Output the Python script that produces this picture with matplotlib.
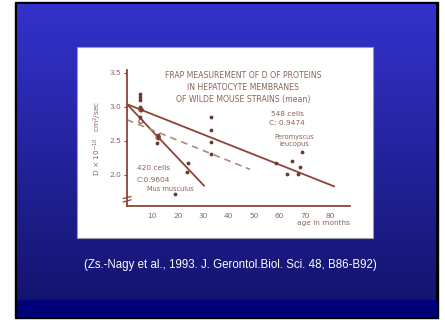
import numpy as np
import matplotlib.pyplot as plt
from matplotlib.patches import Rectangle

# fitted lines (age in months, D x 10^-10 cm2/sec)
mus_x = [0, 30.3]
mus_y = [3.04, 1.84]
pero_x = [0, 81.5]
pero_y = [3.04, 1.83]
dash_x = [0, 48.4]
dash_y = [2.81, 2.08]

# measured points
pts_age = [5, 5, 5, 5, 5.5, 5, 12.3, 12.3, 12, 24, 23.5, 19,
           33, 33, 33, 33, 58.5, 63, 65, 69, 68, 67.5]
pts_d = [3.19, 3.14, 3.10, 3.0, 2.96, 2.85, 2.59, 2.54, 2.47, 2.17, 2.04, 1.72,
         2.85, 2.66, 2.48, 2.31, 2.17, 2.01, 2.21, 2.34, 2.11, 2.01]
circ_age = [5.5, 5.5, 12.3]
circ_d = [2.96, 2.79, 2.55]

xticks = [10, 20, 30, 40, 50, 60, 70, 80]
yticks = [2.0, 2.5, 3.0, 3.5]

title_lines = ['FRAP MEASUREMENT OF D OF PROTEINS',
               'IN HEPATOCYTE MEMBRANES',
               'OF WILDE MOUSE STRAINS (mean)']
caption = '(Zs.-Nagy et al., 1993. J. Gerontol.Biol. Sci. 48, B86-B92)'

ink = '#8a4536'
txt = '#8a6458'

fig = plt.figure(figsize=(4.45, 3.2), dpi=100)
fig.patch.set_facecolor('white')

# slide background
bg = fig.add_axes([0, 0, 1, 1])
bg.add_patch(Rectangle((15, 2), 423, 316, color='black', zorder=0.5))
top = np.array([52, 50, 204]) / 255
bot = np.array([20, 20, 112]) / 255
t = np.linspace(0, 1, 200)[:, None, None]
grad = top * (1 - t) + bot * t
grad = np.repeat(grad, 2, axis=1)
bg.imshow(grad, extent=[17, 436, 300, 4], aspect='auto',
          interpolation='bilinear', zorder=1)
bg.add_patch(Rectangle((17, 300), 419, 16, color='#000078', zorder=2))
bg.add_patch(Rectangle((77, 47), 296, 191, facecolor='white',
                       edgecolor='#9a9aa8', lw=0.8, zorder=2))
bg.text(230, 265, caption, color='white', fontsize=8.3,
        family='Liberation Sans', ha='center', va='center', zorder=3)
bg.set_xlim(0, 445)
bg.set_ylim(320, 0)
bg.axis('off')

# chart
ax = fig.add_axes([127 / 445, 1 - 206 / 320, 223 / 445, 136 / 320])
ax.set_xlim(0, 87.8)
ax.set_ylim(1.54, 3.544)
ax.set_facecolor('none')
for s in ['top', 'right']:
    ax.spines[s].set_visible(False)
for s in ['left', 'bottom']:
    ax.spines[s].set_color(ink)
    ax.spines[s].set_linewidth(1.3)

ax.plot(mus_x, mus_y, color=ink, lw=1.3)
ax.plot(pero_x, pero_y, color=ink, lw=1.3)
ax.plot(dash_x, dash_y, color='#a88a82', lw=1.2, ls=(0, (4, 3)))
ax.scatter(pts_age, pts_d, s=3, color='#6a3a30', zorder=3)
ax.scatter(circ_age, circ_d, s=10, facecolors='none', edgecolors=ink,
           lw=0.8, zorder=3)

ax.set_xticks(xticks)
ax.set_yticks(yticks)
ax.set_yticklabels(['2.0', '2.5', '3.0', '3.5'])
ax.tick_params(axis='x', length=0, pad=5, labelsize=5.3, labelcolor=txt)
ax.tick_params(axis='y', length=2.5, width=0.8, color=ink, pad=1.5,
               labelsize=5.3, labelcolor=txt)

# axis break
for dy in [0.0, 0.05]:
    ax.plot([-1.5, 1.5], [1.60 + dy, 1.63 + dy], color=ink, lw=0.9,
            clip_on=False)

ax.set_ylabel('D × 10$^{-10}$   cm$^2$/sec', fontsize=5.3, color=txt,
              labelpad=4)
ax.text(1.0, -0.1, 'age in months', transform=ax.transAxes, fontsize=5.3,
        color=txt, ha='right', va='top')

for i, line in enumerate(title_lines):
    ax.text(0.52, 0.995 - i * 0.088, line, transform=ax.transAxes,
            fontsize=5.6, color=txt, ha='center', va='top')

ax.text(63, 2.90, '548 cells', fontsize=5.3, color=txt, ha='center', va='center')
ax.text(63, 2.77, 'C: 0.9474', fontsize=5.3, color=txt, ha='center', va='center')
ax.text(66, 2.56, 'Peromyscus', fontsize=4.8, color=txt, ha='center', va='center')
ax.text(66, 2.45, 'leucopus', fontsize=4.8, color=txt, ha='center', va='center')
ax.text(10.5, 2.10, '420 cells', fontsize=5.3, color=txt, ha='center', va='center')
ax.text(10.5, 1.93, 'C:0.9604', fontsize=5.3, color=txt, ha='center', va='center')
ax.text(17, 1.79, 'Mus musculus', fontsize=4.8, color=txt, ha='center', va='center')

fig.savefig('out.png', dpi=100)
